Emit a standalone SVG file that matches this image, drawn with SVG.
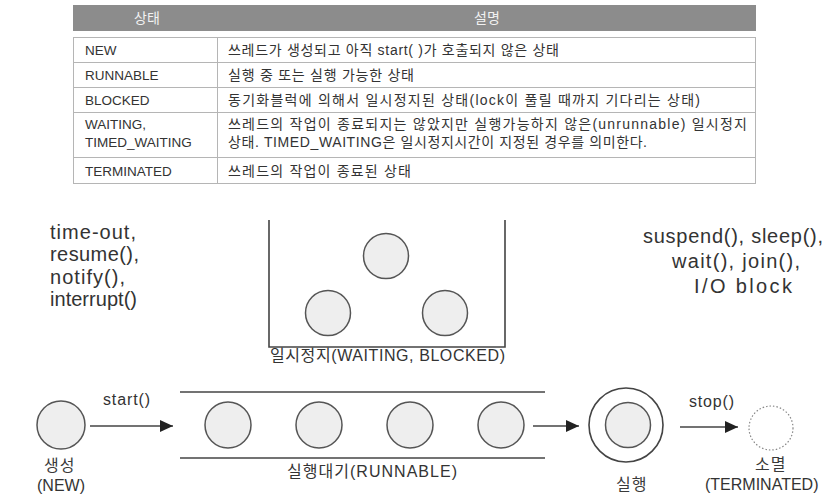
<svg xmlns="http://www.w3.org/2000/svg" width="837" height="496" viewBox="0 0 837 496">
<style>
.tb{font-family:"Liberation Sans","Noto Sans CJK KR",sans-serif;font-size:14px;fill:#333}
.tc{font-family:"Liberation Sans","Noto Sans CJK KR",sans-serif;font-size:13.5px;fill:#333}
.th{font-family:"Noto Sans CJK KR","Liberation Sans",sans-serif;font-size:14px;fill:#f2f2f2}
.tl{fill:none;stroke:#b5b5b5;stroke-width:1}
.lbl{font-family:"Liberation Sans","Noto Sans CJK KR",sans-serif;font-size:20px;fill:#333}
.sm{font-family:"Liberation Sans","Noto Sans CJK KR",sans-serif;font-size:16px;fill:#333}
.ko{font-family:"Liberation Sans","Noto Sans CJK KR",sans-serif;font-size:16px;fill:#3a3a3a;letter-spacing:1px}
.st{fill:#eeeeee;stroke:#555;stroke-width:1.5}
.ln{fill:none;stroke:#444;stroke-width:1.6}
.dot{fill:none;stroke:#888;stroke-width:1.2;stroke-dasharray:1.5 2}
</style>
<defs>
<marker id="ah" markerUnits="userSpaceOnUse" markerWidth="13" markerHeight="12" refX="13" refY="6" orient="auto">
<path d="M0,0 L13,6 L0,12 z" fill="#222"/>
</marker>
</defs>
<rect width="837" height="496" fill="#fff"/>

<g id="table">
<rect x="73" y="5" width="683" height="26" fill="#8c8c8c"/>
<text class="th" x="147" y="23" text-anchor="middle">상태</text>
<text class="th" x="487" y="23" text-anchor="middle">설명</text>
<rect class="tl" x="73.5" y="37.5" width="682" height="146"/>
<line class="tl" x1="217.5" y1="37.5" x2="217.5" y2="183.5"/>
<line class="tl" x1="73.5" y1="62.5" x2="755.5" y2="62.5"/>
<line class="tl" x1="73.5" y1="87.5" x2="755.5" y2="87.5"/>
<line class="tl" x1="73.5" y1="112.5" x2="755.5" y2="112.5"/>
<line class="tl" x1="73.5" y1="157.5" x2="755.5" y2="157.5"/>
<g id="row-new">
<text class="tc" x="85" y="55">NEW</text>
<text class="tb" x="228" y="55" textLength="331" lengthAdjust="spacing">쓰레드가 생성되고 아직 start( )가 호출되지 않은 상태</text>
</g>
<g id="row-runnable">
<text class="tc" x="85" y="80">RUNNABLE</text>
<text class="tb" x="228" y="80" textLength="186" lengthAdjust="spacing">실행 중 또는 실행 가능한 상태</text>
</g>
<g id="row-blocked">
<text class="tc" x="85" y="105">BLOCKED</text>
<text class="tb" x="228" y="105" textLength="472" lengthAdjust="spacing">동기화블럭에 의해서 일시정지된 상태(lock이 풀릴 때까지 기다리는 상태)</text>
</g>
<g id="row-waiting">
<text class="tc" x="85" y="129">WAITING,</text>
<text class="tc" x="85" y="147">TIMED_WAITING</text>
<text class="tb" x="228" y="129" textLength="519" lengthAdjust="spacing">쓰레드의 작업이 종료되지는 않았지만 실행가능하지 않은(unrunnable) 일시정지</text>
<text class="tb" x="228" y="147" textLength="419" lengthAdjust="spacing">상태. TIMED_WAITING은 일시정지시간이 지정된 경우를 의미한다.</text>
</g>
<g id="row-terminated">
<text class="tc" x="85" y="176">TERMINATED</text>
<text class="tb" x="228" y="176" textLength="183" lengthAdjust="spacing">쓰레드의 작업이 종료된 상태</text>
</g>
</g>

<g id="resume-labels">
<text class="lbl" x="50" y="239" textLength="86" lengthAdjust="spacing">time-out,</text>
<text class="lbl" x="50" y="261" textLength="89" lengthAdjust="spacing">resume(),</text>
<text class="lbl" x="50" y="284" textLength="75" lengthAdjust="spacing">notify(),</text>
<text class="lbl" x="50" y="306" textLength="87" lengthAdjust="spacing">interrupt()</text>
</g>

<g id="block-labels">
<text class="lbl" x="643" y="243" textLength="180" lengthAdjust="spacing">suspend(), sleep(),</text>
<text class="lbl" x="672" y="268" textLength="128" lengthAdjust="spacing">wait(), join(),</text>
<text class="lbl" x="694" y="293" textLength="98" lengthAdjust="spacing">I/O block</text>
</g>

<g id="waiting">
<path class="ln" d="M269,220 V347 H505 V220"/>
<circle class="st" cx="386" cy="256" r="22.5"/>
<circle class="st" cx="328" cy="313" r="22.5"/>
<circle class="st" cx="445" cy="313" r="22.5"/>
<text class="sm" x="270" y="361" textLength="235" lengthAdjust="spacing">일시정지(WAITING, BLOCKED)</text>
</g>

<g id="new">
<circle class="st" cx="61" cy="425" r="24"/>
<text class="ko" x="44" y="471">생성</text>
<text class="sm" x="37" y="491">(NEW)</text>
</g>

<g id="runnable">
<line class="ln" x1="180" y1="392" x2="545" y2="392"/>
<line class="ln" x1="180" y1="458" x2="545" y2="458"/>
<circle class="st" cx="228" cy="425" r="23"/>
<circle class="st" cx="319" cy="425" r="23"/>
<circle class="st" cx="410" cy="425" r="23"/>
<circle class="st" cx="501" cy="425" r="23"/>
<text class="sm" x="287" y="477" textLength="170" lengthAdjust="spacing">실행대기(RUNNABLE)</text>
</g>

<g id="running">
<circle cx="626" cy="425" r="37" fill="#fff" stroke="#444" stroke-width="1.6"/>
<circle class="st" cx="628" cy="425" r="22.5"/>
<text class="ko" x="616" y="490">실행</text>
</g>

<g id="terminated">
<circle class="dot" cx="771" cy="428" r="22"/>
<text class="ko" x="755" y="470">소멸</text>
<text class="sm" x="705" y="490">(TERMINATED)</text>
</g>

<g id="connectors">
<line class="ln" x1="90" y1="426" x2="173" y2="426" marker-end="url(#ah)"/>
<text class="sm" x="103" y="405" textLength="47" lengthAdjust="spacing">start()</text>
<line class="ln" x1="533" y1="426" x2="579" y2="426" marker-end="url(#ah)"/>
<line class="ln" x1="680" y1="427" x2="738" y2="427" marker-end="url(#ah)"/>
<text class="sm" x="689" y="407" textLength="45" lengthAdjust="spacing">stop()</text>
</g>
</svg>
